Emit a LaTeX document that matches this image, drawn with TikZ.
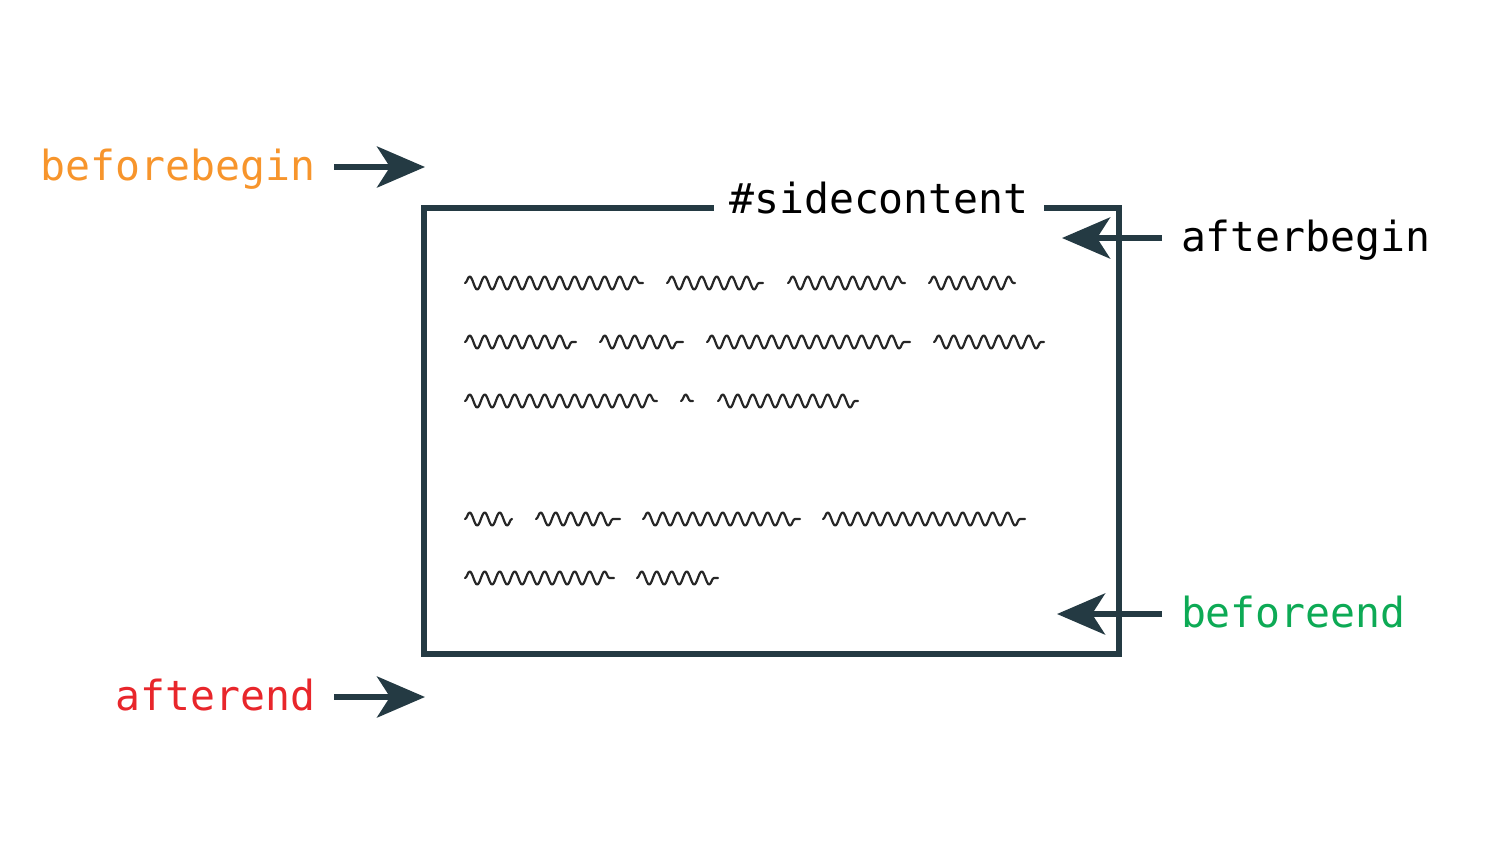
\documentclass[tikz,border=0pt]{standalone}
\usepackage{fontspec}
\newfontfamily\codefont{DejaVu Sans Mono}
\usetikzlibrary{arrows.meta,decorations.pathmorphing}
\definecolor{slate}{HTML}{243A43}
\definecolor{hookorange}{HTML}{F7952C}
\definecolor{hookred}{HTML}{E8262B}
\definecolor{hookgreen}{HTML}{0DAA55}
\tikzset{
  hook/.style={font=\codefont\fontsize{23.6}{28}\selectfont, inner sep=0pt, outer xsep=0.38cm, text height=15pt, text depth=0pt},
  pointer/.style={slate, line width=3.4pt, -{Stealth[length=0.96cm,width=0.82cm,inset=0.26cm]}},
  scribble/.style={black!85, line width=1.25pt, line join=round, line cap=round, decorate, decoration={snake, segment length=0.3cm, amplitude=0.13cm}},
}
\begin{document}
\begin{tikzpicture}[x=0.02cm,y=-0.02cm]
\useasboundingbox (0,0) rectangle (1500,866);

% the element
\draw[slate, line width=3.4pt] (424,208) rectangle (1119,654);
\node[font=\codefont\fontsize{23.6}{28}\selectfont, fill=white, inner xsep=0.3cm, inner ysep=0.15cm] (sidecontent) at (879,198) {\#sidecontent};

% placeholder text
\foreach \y/\words in {283/{465/643,667/763,788/905,929/1015},
                       342/{465/576,600/683,707/910,934/1044},
                       401/{465/657,681/693,718/858},
                       519/{465/512,536/620,643/800,823/1025},
                       578/{465/614,637/718}}
  \foreach \a/\b in \words
    \draw[scribble] (\a,\y) -- (\b,\y);

% positions
\coordinate (bbtip) at (425,167);
\coordinate (abtip) at (1062,238);
\coordinate (betip) at (1057,614);
\coordinate (aetip) at (425,697);

\node[hook, hookorange, anchor=east] (beforebegin) at (334,167) {beforebegin};
\node[hook, black, anchor=west] (afterbegin) at (1162,238) {afterbegin};
\node[hook, hookgreen, anchor=west] (beforeend) at (1162,614) {beforeend};
\node[hook, hookred, anchor=east] (afterend) at (334,697) {afterend};

\draw[pointer] (beforebegin.east) -- (bbtip);
\draw[pointer] (afterbegin.west) -- (abtip);
\draw[pointer] (beforeend.west) -- (betip);
\draw[pointer] (afterend.east) -- (aetip);
\end{tikzpicture}
\end{document}
